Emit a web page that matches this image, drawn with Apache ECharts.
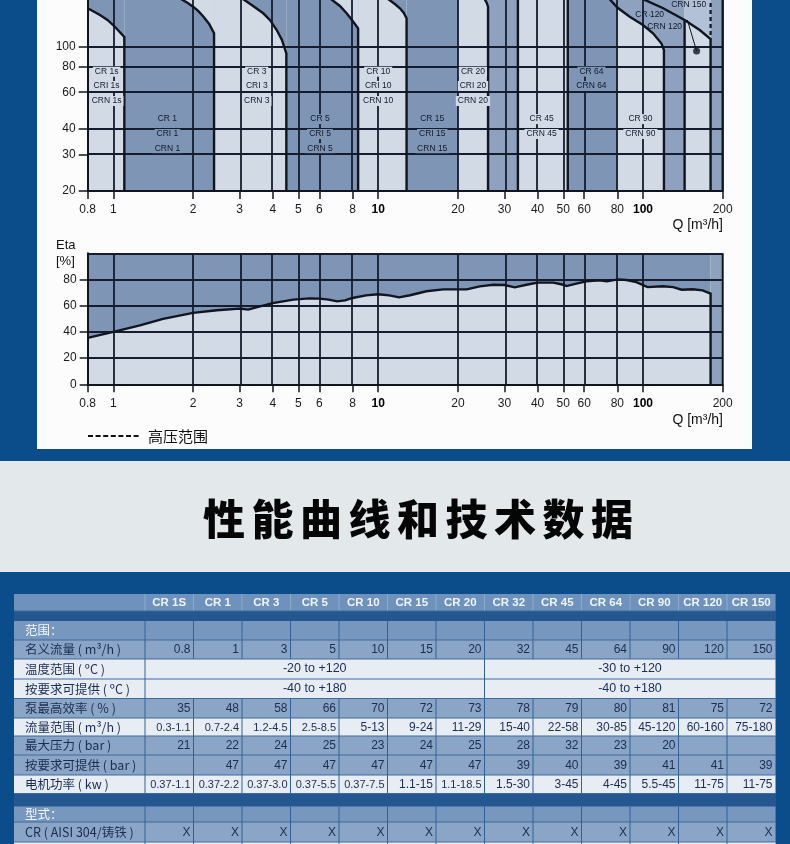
<!DOCTYPE html>
<html><head><meta charset="utf-8">
<script src="https://cdn.jsdelivr.net/npm/echarts@6/dist/echarts.min.js"></script>
<style>html,body{margin:0;padding:0;background:#0b4d8a}#main{width:790px;height:844px}</style>
</head><body><div id="main"></div>
<script>
// ================= DATA =================
const qTicks = [0.8, 1, 2, 3, 4, 5, 6, 8, 10, 20, 30, 40, 50, 60, 80, 100, 200];
const hTicks = [20, 30, 40, 60, 80, 100];
const etaTicks = [0, 20, 40, 60, 80];
const hGrid = [30, 40, 60, 80, 100];
const etaGrid = [20, 40, 60, 80, 100];

// Top chart: curve tops of pump ranges [Q m3/h, H m]
const curveCR1s = [[0.8, 152.6], [0.89, 141.7], [0.95, 134.1], [1.015, 124], [1.1, 110.9]];
const curveCR1 = [[1.79, 170], [1.91, 161.9], [2.0, 155.4], [2.09, 148.2], [2.19, 139], [2.3, 128.2], [2.4, 115.6]];
const curveCR3 = [[3.07, 170], [3.37, 156.6], [3.68, 144.4], [3.9, 134.1], [4.14, 119.9], [4.33, 107.3], [4.5, 92.5]];
const curveCR5 = [[6.6, 170], [7.17, 156.6], [7.6, 144.4], [7.96, 134.1], [8.4, 122.2]];
const curveCR10 = [[10.85, 170], [11.56, 160.1], [12.08, 152.6], [12.5, 144.9], [12.8, 136.6]];
const curveCR20 = [[25.2, 170], [25.7, 162], [26, 155.4]];
const curveCR90 = [[74.5, 170], [80, 154], [89.1, 139], [100, 126.8], [109.1, 115.6], [117.3, 103.4], [120, 96]];
const curveCR150 = [[99, 170], [118.7, 153.2], [143.6, 134], [163.7, 119.9], [180, 108.5]];
const bandEdges = [33.7, 52, 200];          // full-height range edges
const upperBands = [[0.8, 1.1, 'D'], [1.1, 2.4, 'L'], [2.4, 4.5, 'D'], [4.5, 8.4, 'L'], [8.4, 12.8, 'D'],
  [12.8, 20, 'D'], [20, 26, 'M'], [26, 33.7, 'M'], [33.7, 52, 'L'], [52, 74.5, 'D'], [74.5, 143.6, 'M'],
  [143.6, 180, 'LL'], [180, 200, 'M']];
const pumpLabels = [
  ['CR 1s', 0.943, 75.4, 'L'], ['CRI 1s', 0.943, 64.3, 'L'], ['CRN 1s', 0.943, 54.4, 'L'],
  ['CR 1', 1.6, 44.5, 'D'], ['CRI 1', 1.6, 37.7, 'D'], ['CRN 1', 1.6, 32.2, 'D'],
  ['CR 3', 3.48, 75.4, 'L'], ['CRI 3', 3.48, 64.3, 'L'], ['CRN 3', 3.48, 54.4, 'L'],
  ['CR 5', 6.03, 44.5, 'D'], ['CRI 5', 6.03, 37.7, 'D'], ['CRN 5', 6.03, 32.2, 'D'],
  ['CR 10', 10, 75.4, 'L'], ['CRI 10', 10, 64.3, 'L'], ['CRN 10', 10, 54.4, 'L'],
  ['CR 15', 16, 44.5, 'D'], ['CRI 15', 16, 37.7, 'D'], ['CRN 15', 16, 32.2, 'D'],
  ['CR 20', 22.8, 75.4, 'L'], ['CRI 20', 22.8, 64.3, 'L'], ['CRN 20', 22.8, 54.4, 'L'],
  ['CR 45', 41.4, 44.5, 'L'], ['CRN 45', 41.4, 37.7, 'L'],
  ['CR 64', 63.9, 75.4, 'D'], ['CRN 64', 63.9, 64.3, 'D'],
  ['CR 90', 97.8, 44.5, 'L'], ['CRN 90', 97.8, 37.7, 'L'],
  ['CR 120', 106, 141.7, ''], ['CRN 120', 120.7, 124.4, ''], ['CRN 150', 148.8, 158.3, '']
];
const crn150Leader = [[147.1, 134.1], [159.4, 94.9]];

// Eta chart
const etaQ = [0.8, 1, 1.26, 1.54, 2, 2.46, 3, 3.23, 3.58, 4, 4.78, 5.5, 6, 6.5, 7, 7.5, 8, 9, 10, 11, 12, 13.2,
  15.2, 17.6, 20, 21.6, 24.2, 27.2, 30, 32.8, 36.3, 40, 45.8, 50, 51.4, 56, 61, 68.6, 73, 80.5, 86.6, 94.4,
  104, 119, 130, 140, 154, 168, 180];
const etaVal = [35.4, 40, 45, 50, 54.5, 56.5, 57.8, 57, 59.5, 62, 64.6, 65.6, 65.4, 64.6, 63.3, 64.1, 65.9,
  67.9, 68.7, 67.9, 66.4, 68, 71, 72.5, 72.5, 72.5, 74.8, 76, 75.8, 74, 76, 77.6, 77.6, 76, 75, 76.8, 78.6,
  79.3, 78.6, 80.1, 79.6, 78, 74.2, 74.8, 74.2, 72.2, 72.5, 71.7, 69.2];

// Table
const tableTitle = '性能曲线和技术数据';
const models = ['CR 1S', 'CR 1', 'CR 3', 'CR 5', 'CR 10', 'CR 15', 'CR 20', 'CR 32', 'CR 45', 'CR 64', 'CR 90', 'CR 120', 'CR 150'];
const rowLabels = ['范围：', '名义流量 ( m³/h )', '温度范围 ( ºC )', '按要求可提供 ( ºC )', '泵最高效率 ( % )',
  '流量范围 ( m³/h )', '最大压力 ( bar )', '按要求可提供 ( bar )', '电机功率 ( kw )', '型式：', 'CR ( AISI 304/铸铁 )'];
const nominalFlow = ['0.8', '1', '3', '5', '10', '15', '20', '32', '45', '64', '90', '120', '150'];
const tempRange = ['-20 to +120', '-30 to +120'];
const tempOnRequest = ['-40 to +180', '-40 to +180'];
const maxEff = ['35', '48', '58', '66', '70', '72', '73', '78', '79', '80', '81', '75', '72'];
const flowRange = ['0.3-1.1', '0.7-2.4', '1.2-4.5', '2.5-8.5', '5-13', '9-24', '11-29', '15-40', '22-58', '30-85', '45-120', '60-160', '75-180'];
const maxPressure = ['21', '22', '24', '25', '23', '24', '25', '28', '32', '23', '20', '', ''];
const pressureOnRequest = ['', '47', '47', '47', '47', '47', '47', '39', '40', '39', '41', '41', '39'];
const motorPower = ['0.37-1.1', '0.37-2.2', '0.37-3.0', '0.37-5.5', '0.37-7.5', '1.1-15', '1.1-18.5', '1.5-30', '3-45', '4-45', '5.5-45', '11-75', '11-75'];
const crRow = ['X', 'X', 'X', 'X', 'X', 'X', 'X', 'X', 'X', 'X', 'X', 'X', 'X'];

// ================= BUILD =================
const lg = Math.log10;
const COL = { L: '#d2dae6', D: '#7f95b5', M: '#8ea2c0', LL: '#b2c1d6' };
const INK = '#10151f';
const GRIDC = '#141c2e';
const H_MIN = lg(20), H_MAX = lg(20) + 191 / 207, TOPV = 175;
const FONT = "'Liberation Sans', Arial, sans-serif";
const CJK = "'Noto Sans CJK SC', sans-serif";

const P = arr => arr.map(p => [lg(p[0]), lg(p[1])]);
const PE = arr => arr.map(p => [lg(p[0]), p[1]]);

function fill(data, color, gi, z) {
  return { type: 'line', xAxisIndex: gi, yAxisIndex: gi, data, symbol: 'none', showSymbol: false,
    lineStyle: { width: 0, opacity: 0 }, areaStyle: { color, opacity: 1, origin: 'start' },
    z, silent: true, animation: false, clip: true };
}
function stroke(data, gi, width, dash) {
  return { type: 'line', xAxisIndex: gi, yAxisIndex: gi, data, symbol: 'none', showSymbol: false,
    lineStyle: { width, color: INK, type: dash || 'solid', cap: 'butt', join: 'miter' },
    z: 6, silent: true, animation: false, clip: true };
}

const series = [];
upperBands.forEach(b => series.push(fill(P([[b[0], TOPV], [b[1], TOPV]]), COL[b[2]], 0, 1)));
const last = a => a[a.length - 1];
series.push(fill(P([...curveCR1s, [1.1, 20]]), COL.L, 0, 2));
series.push(fill(P([[1.1, TOPV], ...curveCR1, [2.4, 20]]), COL.D, 0, 2));
series.push(fill(P([[2.4, TOPV], ...curveCR3, [4.5, 20]]), COL.L, 0, 2));
series.push(fill(P([[4.5, TOPV], ...curveCR5, [8.4, 20]]), COL.D, 0, 2));
series.push(fill(P([[8.4, TOPV], ...curveCR10, [12.8, 20]]), COL.L, 0, 2));
series.push(fill(P([[20, TOPV], ...curveCR20, [26, 20]]), COL.L, 0, 2));
series.push(fill(P([[52, TOPV], curveCR90[0], curveCR90[1], [80, 20]]), COL.D, 0, 2));
series.push(fill(P([...curveCR90.slice(1), [120, 20]]), COL.L, 0, 2));
series.push(fill(P([...curveCR150.slice(2), [180, 20]]), COL.L, 0, 2));
const qGrid = qTicks.slice(1, -1);
series.push({ type: 'line', xAxisIndex: 0, yAxisIndex: 0, data: [], silent: true, animation: false,
  markLine: { silent: true, symbol: ['none', 'none'], label: { show: false }, z: 3, animation: false,
    lineStyle: { color: GRIDC, width: 1.8, type: 'solid', opacity: 1 },
    emphasis: { disabled: true },
    data: [...qGrid.map(q => ({ xAxis: lg(q) })), ...hGrid.map(h => ({ yAxis: lg(h) }))] } });
series.push(stroke(P([...curveCR1s, [1.1, 20]]), 0, 2.4));
series.push(stroke(P([...curveCR1, [2.4, 20]]), 0, 2.4));
series.push(stroke(P([...curveCR3, [4.5, 20]]), 0, 2.4));
series.push(stroke(P([...curveCR5, [8.4, 20]]), 0, 2.4));
series.push(stroke(P([...curveCR10, [12.8, 20]]), 0, 2.4));
series.push(stroke(P([...curveCR20, [26, 20]]), 0, 2.4));
series.push(stroke(P([...curveCR90, [120, 20]]), 0, 2.4));
series.push(stroke(P([...curveCR150, [180, 20]]), 0, 2.4));
series.push(stroke(P([curveCR150[2], [143.6, 20]]), 0, 2.4));
bandEdges.forEach(q => series.push(stroke(P([[q, TOPV], [q, 20]]), 0, 2.4)));
series.push(stroke(P([[180, TOPV], last(curveCR150)]), 0, 2.2, [4, 3]));
series.push(stroke(P(crn150Leader), 0, 1));
series.push({ type: 'scatter', xAxisIndex: 0, yAxisIndex: 0, data: P([last(crn150Leader)]), symbolSize: 7,
  itemStyle: { color: INK }, z: 7, silent: true, animation: false });
series.push({ type: 'scatter', xAxisIndex: 0, yAxisIndex: 0, symbolSize: 1, itemStyle: { color: '#10151f', opacity: 1 }, z: 8,
  silent: true, animation: false,
  data: pumpLabels.map(l => ({ name: l[0], value: [lg(l[1]), lg(l[2])],
    label: { backgroundColor: l[3] ? COL[l[3]] : 'transparent' } })),
  label: { show: true, position: 'inside', formatter: '{b}', fontSize: 8.5, fontFamily: FONT,
    color: '#111a2c', opacity: 1, textBorderWidth: 0, padding: [1, 2, 0, 2] },
  labelLayout: { hideOverlap: false } });

// Eta chart
series.push(fill(PE([[0.8, 100], [180, 100]]), COL.D, 1, 1));
series.push(fill(PE([[180, 100], [200, 100]]), COL.M, 1, 1));
const etaPts = etaQ.map((q, i) => [q, etaVal[i]]);
series.push(fill(PE([...etaPts, [180, 0]]), COL.L, 1, 2));
series.push({ type: 'line', xAxisIndex: 1, yAxisIndex: 1, data: [], silent: true, animation: false,
  markLine: { silent: true, symbol: ['none', 'none'], label: { show: false }, z: 3, animation: false,
    lineStyle: { color: GRIDC, width: 1.8, type: 'solid', opacity: 1 },
    emphasis: { disabled: true },
    data: [...qGrid.map(q => ({ xAxis: lg(q) })), ...etaGrid.map(e => ({ yAxis: e }))] } });
series.push(stroke(PE([...etaPts, [180, 0]]), 1, 2.4));
series.push(stroke(PE([[200, 0], [200, 100]]), 1, 2));

const axLbl = { color: '#1a1a1a', fontFamily: FONT, fontSize: 12 };
function xAx(gi) {
  return { type: 'value', gridIndex: gi, min: lg(0.8), max: lg(200), z: 9,
    axisLine: { show: true, onZero: false, lineStyle: { color: INK, width: 2 } },
    axisTick: { show: true, customValues: qTicks.map(lg), length: 8, lineStyle: { color: INK, width: 1.5 } },
    axisLabel: Object.assign({ show: true, customValues: qTicks.map(lg), margin: 13,
      formatter: v => { const q = Math.round(Math.pow(10, v) * 1000) / 1000;
        return (q === 10 || q === 100) ? '{b|' + q + '}' : String(q); },
      rich: { b: { fontWeight: 'bold', fontSize: 12, fontFamily: FONT, color: '#000' } } }, axLbl),
    splitLine: { show: false } };
}
const option = {
  backgroundColor: '#0b4d8a',
  animation: false,
  grid: [{ left: 87.7, top: 0, width: 635, height: 191 }, { left: 87.7, top: 253.3, width: 635, height: 131 }],
  xAxis: [xAx(0), xAx(1)],
  yAxis: [
    { type: 'value', gridIndex: 0, min: H_MIN, max: H_MAX, z: 9,
      axisLine: { show: true, onZero: false, lineStyle: { color: INK, width: 2 } },
      axisTick: { show: true, customValues: hTicks.map(lg), length: 9, lineStyle: { color: INK, width: 1.5 } },
      axisLabel: Object.assign({ customValues: hTicks.map(lg), margin: 12,
        formatter: v => String(Math.round(Math.pow(10, v))) }, axLbl),
      splitLine: { show: false } },
    { type: 'value', gridIndex: 1, min: 0, max: 100, interval: 20, z: 9,
      axisLine: { show: true, onZero: false, lineStyle: { color: INK, width: 2 } },
      axisTick: { show: true, customValues: etaTicks, length: 8, lineStyle: { color: INK, width: 1.5 } },
      axisLabel: Object.assign({ customValues: etaTicks, margin: 11 }, axLbl),
      splitLine: { show: false } }
  ],
  series
};

// ----- graphics -----
const G = [];
G.push({ type: 'rect', shape: { x: 37, y: 0, width: 715, height: 449 }, style: { fill: '#fcfcfd' }, z: -5, silent: true });
G.push({ type: 'rect', shape: { x: 0, y: 461, width: 790, height: 111 }, style: { fill: '#e3e8eb' }, z: -5, silent: true });
const txt = (text, x, y, o) => Object.assign({ type: 'text', silent: true, z: 20,
  style: Object.assign({ text, x, y, fill: '#111', fontSize: 13, fontFamily: FONT, align: 'left', verticalAlign: 'middle' }, o || {}) });
G.push(txt('Q [m³/h]', 723, 225, { align: 'right', fontSize: 14 }));
G.push(txt('Q [m³/h]', 723, 420, { align: 'right', fontSize: 14 }));
G.push(txt('Eta', 56, 245, { fontSize: 13 }));
G.push(txt('[%]', 56, 261, { fontSize: 13 }));
G.push({ type: 'line', z: 20, silent: true, shape: { x1: 88, y1: 436, x2: 141, y2: 436 },
  style: { stroke: '#111', lineWidth: 2, lineDash: [5, 2.6] } });
G.push(txt('高压范围', 148, 436, { fontSize: 15, fontFamily: CJK }));
tableTitle.split('').forEach((ch, i) => G.push(txt(ch, 224 + i * 48.5, 519,
  { align: 'center', fontSize: 42, fontWeight: 900, fontFamily: CJK, fill: '#050505' })));

// table
const cx0 = 145, cw = 48.5, tl = 14, tr = cx0 + 13 * cw;
const RC = { hdr: '#6e92bc', gap: '#24578f', sec: '#7797be', med: '#8ba5c6', lt: '#e8edf3' };
const rows = [
  { k: 'hdr', y: 594, h: 17, hdr: models },
  { k: 'gap', y: 611, h: 10 },
  { k: 'sec', y: 621, h: 19, label: rowLabels[0] },
  { k: 'med', y: 640, h: 19, label: rowLabels[1], vals: nominalFlow },
  { k: 'lt', y: 659, h: 20, label: rowLabels[2], merged: tempRange },
  { k: 'lt', y: 679, h: 19.5, label: rowLabels[3], merged: tempOnRequest },
  { k: 'med', y: 698.5, h: 19.5, label: rowLabels[4], vals: maxEff },
  { k: 'lt', y: 718, h: 18, label: rowLabels[5], vals: flowRange },
  { k: 'med', y: 736, h: 19, label: rowLabels[6], vals: maxPressure },
  { k: 'med', y: 755, h: 20, label: rowLabels[7], vals: pressureOnRequest },
  { k: 'lt', y: 775, h: 18.5, label: rowLabels[8], vals: motorPower },
  { k: 'gap', y: 793.5, h: 13 },
  { k: 'sec', y: 806.5, h: 15.5, label: rowLabels[9] },
  { k: 'med', y: 822, h: 20, label: rowLabels[10], vals: crRow },
  { k: 'lt', y: 842, h: 10 }
];
G.push({ type: 'rect', shape: { x: tl, y: 594, width: tr - tl, height: 260 }, style: { fill: '#2d5e96' }, z: 10, silent: true });
rows.forEach(r => {
  G.push({ type: 'rect', shape: { x: tl, y: r.y, width: tr - tl, height: r.h }, style: { fill: RC[r.k] }, z: 11, silent: true });
  const mid = r.y + r.h / 2;
  if (r.k !== 'gap') {
    const lines = r.merged ? [cx0, cx0 + 7 * cw] : Array.from({ length: 13 }, (_, i) => cx0 + i * cw);
    lines.forEach(x => G.push({ type: 'line', z: 12, silent: true, shape: { x1: x, y1: r.y, x2: x, y2: r.y + r.h },
      style: { stroke: r.k === 'hdr' ? '#8eaacb' : '#33609a', lineWidth: 1 } }));
    G.push({ type: 'line', z: 12, silent: true, shape: { x1: tl, y1: r.y + r.h, x2: tr, y2: r.y + r.h },
      style: { stroke: '#3f6a9e', lineWidth: 1 } });
  }
  if (r.hdr) r.hdr.forEach((m, i) => G.push(txt(m, cx0 + i * cw + cw / 2, mid + 0.5,
    { align: 'center', fontSize: 11.5, fontWeight: 'bold', fill: '#f0f4f9' })));
  if (r.label) G.push(txt(r.label, 25, mid, { fontSize: 12.5, fontFamily: CJK,
    fill: r.k === 'sec' ? '#f4f7fb' : '#1b2d52' }));
  if (r.vals) r.vals.forEach((v, i) => { if (v) G.push(txt(v, cx0 + (i + 1) * cw - 3, mid + 0.5,
    { align: 'right', fontSize: v.length > 6 ? 11 : 12, fill: '#1b2d52' })); });
  if (r.merged) {
    G.push(txt(r.merged[0], cx0 + 3.5 * cw, mid, { align: 'center', fontSize: 12.5, fill: '#1b2d52' }));
    G.push(txt(r.merged[1], cx0 + 10 * cw, mid, { align: 'center', fontSize: 12.5, fill: '#1b2d52' }));
  }
});
option.graphic = { elements: G };

const chart = echarts.init(document.getElementById('main'), null, { renderer: 'canvas', width: 790, height: 844 });
chart.setOption(option);
</script></body></html>
